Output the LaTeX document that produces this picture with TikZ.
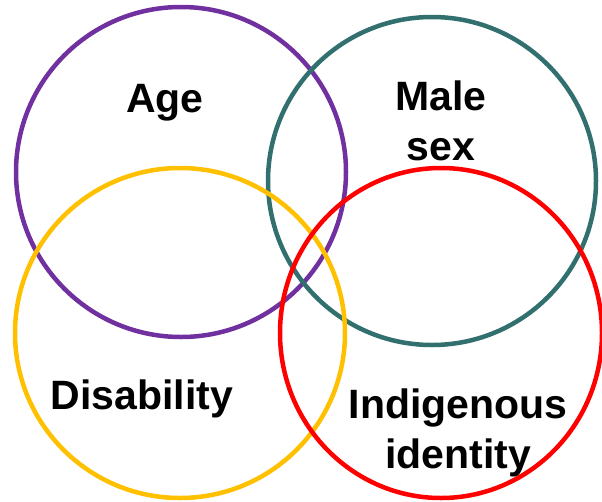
\documentclass[tikz,border=0pt]{standalone}
\usepackage{fontspec}
\setmainfont{Liberation Sans}
\definecolor{cpurple}{HTML}{7030A0}
\definecolor{cteal}{HTML}{31706E}
\definecolor{cyellow}{HTML}{FFC000}
\definecolor{cred}{HTML}{FF0000}
\begin{document}
\begin{tikzpicture}[x=1pt,y=-1pt,
  ring/.style={line width=4.5pt},
  lbl/.style={font=\fontsize{41}{50}\selectfont\bfseries, inner sep=0pt, align=center, anchor=base}]
\useasboundingbox[fill=white] (0,0) rectangle (602,501);
\draw[ring, cpurple] (181,172) circle[radius=165pt];
\draw[ring, cteal] (432,181) circle[radius=164pt];
\draw[ring, cyellow] (180,333) circle[radius=165pt];
\draw[ring, cred] (441,333) ellipse[x radius=161pt, y radius=165pt];
\node[lbl] (age) at (165,112) {Age};
\node[lbl] (male) at (441,160) {Male\\sex};
\node[lbl] (dis) at (142,409) {Disability};
\node[lbl] (ind) at (458,468) {Indigenous\\identity};
\end{tikzpicture}
\end{document}
